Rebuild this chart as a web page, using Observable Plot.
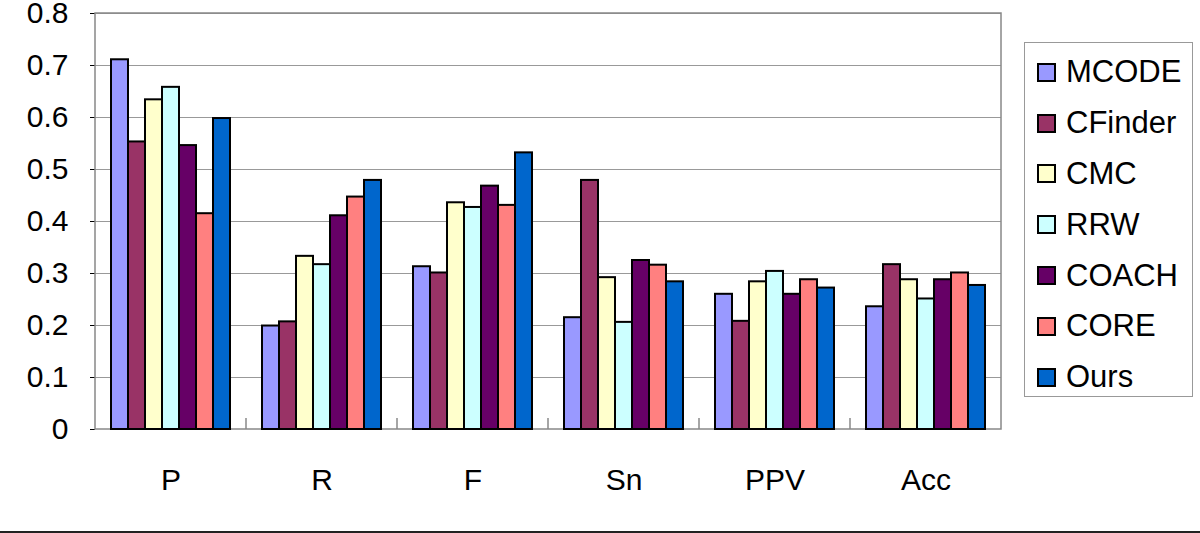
<!DOCTYPE html>
<html>
<head>
<meta charset="utf-8">
<script src="https://cdn.jsdelivr.net/npm/d3@7"></script>
<script src="https://cdn.jsdelivr.net/npm/@observablehq/plot@0.6"></script>
<style>
  html, body { margin: 0; padding: 0; background: #fff; }
  #wrap { position: relative; width: 1200px; height: 533px; font-family: "Liberation Sans", Arial, sans-serif; }
  #chart { border-bottom: 2px solid #222; height: 531px; }
  #legend { position: absolute; left: 1024px; top: 42px; width: 169px; height: 355px; box-sizing: border-box;
            border: 1px solid #999; padding: 4px 0 0 12px; background: #fff; }
  .item { height: 50.8px; display: flex; align-items: center; font-size: 31px; color: #000; }
  .sw { width: 15px; height: 15px; border: 2px solid #000; margin-right: 10px; flex: none; }
</style>
</head>
<body>
<div id="wrap"><div id="chart"></div><div id="legend"></div></div>
<script>
const categories = ["P", "R", "F", "Sn", "PPV", "Acc"];
const methods = ["MCODE", "CFinder", "CMC", "RRW", "COACH", "CORE", "Ours"];
const colors = ["#9999FF", "#993366", "#FFFFCC", "#CCFFFF", "#660066", "#FF8080", "#0066CC"];
const yTicks = [0, 0.1, 0.2, 0.3, 0.4, 0.5, 0.6, 0.7, 0.8];

const MCODE   = [0.711, 0.199, 0.313, 0.215, 0.260, 0.236];
const CFinder = [0.553, 0.207, 0.301, 0.479, 0.208, 0.317];
const CMC     = [0.634, 0.333, 0.436, 0.292, 0.284, 0.288];
const RRW     = [0.658, 0.317, 0.427, 0.206, 0.304, 0.251];
const COACH   = [0.546, 0.411, 0.468, 0.325, 0.260, 0.288];
const CORE    = [0.415, 0.447, 0.431, 0.316, 0.288, 0.301];
const Ours    = [0.598, 0.479, 0.532, 0.284, 0.272, 0.277];

const seriesValues = [MCODE, CFinder, CMC, RRW, COACH, CORE, Ours];
const data = methods.flatMap((m, i) => categories.map((c, j) => ({cat: c, method: m, value: seriesValues[i][j]})));

const plot = Plot.plot({
  width: 1200,
  height: 531,
  marginLeft: 94,
  marginRight: 198,
  marginTop: 13,
  marginBottom: 102,
  style: {fontFamily: "'Liberation Sans', Arial, sans-serif", fontSize: "30px", color: "#000", background: "#fff", overflow: "visible"},
  fx: {domain: categories, padding: 0, label: null, tickSize: 0, tickPadding: 39},
  x: {domain: methods, paddingInner: 0, paddingOuter: 0.7, axis: null},
  y: {domain: [0, 0.8], ticks: yTicks, tickFormat: d => d === 0 ? "0" : d.toFixed(1), tickSize: 5, tickPadding: 22, label: null},
  color: {domain: methods, range: colors},
  marks: [
    Plot.gridY(yTicks.slice(1), {stroke: "#999", strokeOpacity: 1}),
    Plot.barY(data, {fx: "cat", x: "method", y: "value", fill: "method", stroke: "#000", strokeWidth: 2})
  ]
});
document.getElementById("chart").appendChild(plot);

// plot-area frame and category boundary ticks, placed with Plot's own scales
const fxScale = plot.scale("fx");
const yScale = plot.scale("y");
const svg = d3.select(plot);
const barGroup = svg.select('g[aria-label="bar"]').node();
const frameLeft = fxScale.apply(categories[0]);
const frameRight = fxScale.apply(categories[categories.length - 1]) + fxScale.bandwidth;
const frameTop = yScale.apply(0.8), frameBottom = yScale.apply(0);
const g = svg.insert("g", () => barGroup);
g.append("rect").attr("x", frameLeft).attr("y", frameTop).attr("width", frameRight - frameLeft).attr("height", frameBottom - frameTop)
  .attr("fill", "none").attr("stroke", "#888").attr("stroke-width", 1.5);
categories.slice(1).forEach(c => {
  const x = fxScale.apply(c);
  g.append("line").attr("x1", x).attr("x2", x).attr("y1", frameBottom).attr("y2", frameBottom - 11)
    .attr("stroke", "#888").attr("stroke-width", 1.5);
});

// legend
const legend = d3.select("#legend");
methods.forEach((m, i) => {
  const it = legend.append("div").attr("class", "item");
  it.append("div").attr("class", "sw").style("background", colors[i]);
  it.append("span").text(m);
});
</script>
</body>
</html>
